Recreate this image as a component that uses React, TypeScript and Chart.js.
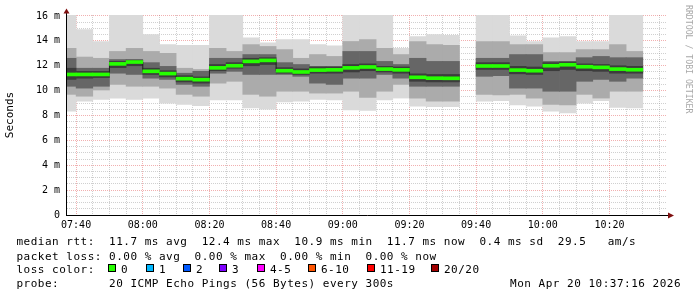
import React, { useEffect, useRef } from 'react';
import { Chart, registerables } from 'chart.js';

Chart.register(...registerables);

// ---- time window and 5-minute step starts ----
const timeStart = '07:37:16';
const timeEnd = '10:37:16';
const slotStart = [
  '07:35', '07:40', '07:45', '07:50', '07:55', '08:00', '08:05', '08:10', '08:15', '08:20',
  '08:25', '08:30', '08:35', '08:40', '08:45', '08:50', '08:55', '09:00', '09:05', '09:10',
  '09:15', '09:20', '09:25', '09:30', '09:35', '09:40', '09:45', '09:50', '09:55', '10:00',
  '10:05', '10:10', '10:15', '10:20', '10:25', '10:30', '10:35',
];

// ---- smoke bands (ms), outermost (1) to innermost (4) ----
const smokeHi1 = [16.3, 14.9, 13.95, 16.3, 16.3, 14.5, 13.7, 13.65, 13.65, 16.3, 16.3, 14.25, 13.85, 14.1, 14.1, 13.7, 13.6, 16.3, 16.3, 16.3, 13.4, 14.35, 14.5, 14.45, null, 16.3, 16.3, 14.4, 13.95, 14.25, 14.35, 13.95, 13.95, 16.3, 16.3, null, null];
const smokeHi2 = [13.4, 12.7, 12.6, 13.15, 13.4, 13.15, 13.0, 11.8, 11.7, 13.4, 13.15, 13.7, 13.55, 13.3, 12.6, 12.9, 12.75, 13.95, 14.1, 13.4, 12.9, 13.95, 13.7, 13.65, null, 13.95, 13.95, 13.7, 13.7, 13.05, 13.05, 13.3, 13.3, 13.7, 13.15, null, null];
const smokeHi3 = [12.6, 11.8, 11.8, 12.5, 12.5, 12.25, 11.95, 11.4, 11.55, 12.6, 12.6, 12.9, 12.9, 12.25, 12.1, 11.95, 11.95, 13.15, 13.15, 12.35, 12.1, 12.6, 12.35, 12.35, null, 12.6, 12.6, 12.9, 12.9, 12.35, 12.35, 12.65, 12.75, 12.65, 12.65, null, null];
const smokeHi4 = [11.8, 11.55, 11.55, 12.35, 12.45, 11.8, 11.6, 11.2, 11.1, 12.1, 12.25, 12.6, 12.65, 11.85, 11.75, 11.9, 11.9, 12.1, 12.15, 11.95, 11.9, 11.35, 11.3, 11.3, null, 12.25, 12.25, 11.95, 11.9, 12.25, 12.3, 12.15, 12.1, 12.0, 11.95, null, null];
const medianRtt = [11.3, 11.3, 11.3, 12.15, 12.3, 11.55, 11.37, 10.96, 10.88, 11.83, 12.0, 12.35, 12.43, 11.6, 11.5, 11.65, 11.67, 11.83, 11.9, 11.73, 11.67, 11.07, 11.0, 10.99, null, 11.98, 11.98, 11.65, 11.6, 12.0, 12.08, 11.92, 11.87, 11.73, 11.68, null, null];
const smokeLo4 = [10.9, 11.0, 11.05, 11.85, 12.0, 11.3, 11.1, 10.7, 10.6, 11.6, 11.8, 12.0, 12.1, 11.4, 11.3, 11.4, 11.4, 11.5, 11.6, 11.5, 11.4, 10.75, 10.7, 10.7, null, 11.7, 11.7, 11.35, 11.3, 11.6, 11.7, 11.6, 11.55, 11.4, 11.4, null, null];
const smokeLo3 = [10.35, 10.2, 10.35, 11.4, 11.3, 11.0, 10.9, 10.5, 10.35, 11.4, 11.55, 11.3, 11.3, 11.3, 11.15, 10.6, 10.5, 11.0, 11.0, 11.3, 11.0, 10.35, 10.35, 10.35, null, 11.15, 11.2, 10.2, 10.2, 9.95, 9.95, 10.75, 10.9, 10.75, 11.0, null, null];
const smokeLo2 = [9.7, 9.55, 10.05, 10.5, 10.35, 10.35, 10.2, 9.7, 9.55, 10.6, 10.75, 9.7, 9.55, 9.95, 9.95, 9.8, 9.8, 9.95, 9.45, 9.95, 10.5, 9.4, 9.15, 9.15, null, 9.7, 9.65, 9.7, 9.4, 8.9, 8.85, 9.7, 9.4, 9.95, 9.95, null, null];
const smokeLo1 = [8.35, 9.15, 9.3, 9.4, 9.3, 9.4, 9.0, 8.9, 8.8, 9.25, 9.25, 8.6, 8.5, 9.1, 9.15, 9.3, 9.25, 8.45, 8.4, 9.25, 9.4, 8.75, 8.7, 8.7, null, 9.15, 9.2, 8.85, 8.75, 8.35, 8.2, 9.0, 9.2, 8.65, 8.6, null, null];

// ---- axis tick labels ----
const xTickLabels = ['07:40', '08:00', '08:20', '08:40', '09:00', '09:20', '09:40', '10:00', '10:20'];
const yTickValues = [0, 2, 4, 6, 8, 10, 12, 14, 16];
const yTickLabels = ['0', '2 m', '4 m', '6 m', '8 m', '10 m', '12 m', '14 m', '16 m'];
const yAxisMax = 16.08;
const yMinorStep = 0.5;

// ---- legend texts ----
const legendMedian = 'median rtt:  11.7 ms avg  12.4 ms max  10.9 ms min  11.7 ms now  0.4 ms sd  29.5   am/s';
const legendLoss = 'packet loss: 0.00 % avg  0.00 % max  0.00 % min  0.00 % now';
const legendLossTitle = 'loss color:';
const lossLabels = ['0', '1', '2', '3', '4-5', '6-10', '11-19', '20/20'];
const lossColors = ['#26ff00', '#00b8ff', '#0059ff', '#7e00ff', '#ff00ff', '#ff5500', '#ff0000', '#a10000'];
const legendProbe = 'probe:       20 ICMP Echo Pings (56 Bytes) every 300s';
const legendDate = 'Mon Apr 20 10:37:16 2026';
const sideText = 'RRDTOOL / TOBI OETIKER';

// ---- styles ----
const MONO = '"DejaVu Sans Mono", monospace';
const smokeColors = ['#dadada', '#ababab', '#666666', '#3c3c3c'];
const majorGrid = 'rgba(224,80,80,0.45)';
const minorGrid = 'rgba(150,150,150,0.45)';
const MEDIAN_HALF = 0.12;
const STEP = 5;
const lossBoxX = [108, 146, 183, 219, 257, 308, 367, 431];

const toMin = (s: string) => {
  const p = s.split(':').map(Number);
  return p[0] * 60 + p[1] + (p[2] || 0) / 60;
};
const tMin = toMin(timeStart);
const tMax = toMin(timeEnd);

const band = (lo: (number | null)[], hi: (number | null)[]) =>
  slotStart.map((s, i) => ({
    x: toMin(s) + STEP / 2,
    y: lo[i] == null || hi[i] == null ? null : [lo[i] as number, hi[i] as number],
  }));

const medianBar = slotStart.map((s, i) => ({
  x: toMin(s) + STEP / 2,
  y: medianRtt[i] == null ? null : [(medianRtt[i] as number) - MEDIAN_HALF, (medianRtt[i] as number) + MEDIAN_HALF],
}));
const medianStep = slotStart.map((s, i) => ({ x: toMin(s), y: medianRtt[i] }));

const xGrid = slotStart.map(toMin).filter((m) => m > tMin && m < tMax);
const xMajor = xTickLabels.map(toMin);
const yGrid: number[] = [];
for (let v = 0; v <= 16 + 1e-9; v += yMinorStep) yGrid.push(Math.round(v * 100) / 100);

const barCommon = {
  type: 'bar' as const,
  grouped: false,
  barPercentage: 1,
  categoryPercentage: 1,
  borderWidth: 0,
};

const decor = {
  id: 'decor',
  afterDraw(chart: any) {
    const { ctx, chartArea } = chart;
    const L = chartArea.left - 1;
    const B = chartArea.bottom;
    ctx.save();
    // axes
    ctx.strokeStyle = '#000';
    ctx.lineWidth = 1;
    ctx.beginPath();
    ctx.moveTo(L + 0.5, B + 1);
    ctx.lineTo(L + 0.5, chartArea.top - 2);
    ctx.moveTo(L, B + 0.5);
    ctx.lineTo(chartArea.right + 2, B + 0.5);
    ctx.stroke();
    // arrows
    ctx.fillStyle = '#7f1010';
    ctx.beginPath();
    ctx.moveTo(L - 2.5, chartArea.top - 1.5);
    ctx.lineTo(L + 3.5, chartArea.top - 1.5);
    ctx.lineTo(L + 0.5, chartArea.top - 6.5);
    ctx.closePath();
    ctx.fill();
    ctx.beginPath();
    ctx.moveTo(chartArea.right + 1, B - 2.5);
    ctx.lineTo(chartArea.right + 1, B + 3.5);
    ctx.lineTo(chartArea.right + 7, B + 0.5);
    ctx.closePath();
    ctx.fill();

    // side text
    ctx.save();
    ctx.translate(688, 5);
    ctx.rotate(Math.PI / 2);
    ctx.font = `8.2px ${MONO}`;
    ctx.fillStyle = '#a8a8a8';
    ctx.textBaseline = 'middle';
    ctx.textAlign = 'left';
    ctx.fillText(sideText, 0, 0);
    ctx.restore();

    // legend
    ctx.font = `11px ${MONO}`;
    (ctx as any).letterSpacing = '0.5px';
    ctx.fillStyle = '#000';
    ctx.textBaseline = 'alphabetic';
    ctx.textAlign = 'left';
    const x0 = 16.5;
    ctx.fillText(legendMedian, x0, 245);
    ctx.fillText(legendLoss, x0, 259.5);
    ctx.fillText(legendLossTitle, x0, 273.3);
    lossLabels.forEach((lab, i) => {
      const bx = lossBoxX[i];
      ctx.fillStyle = lossColors[i];
      ctx.fillRect(bx, 264, 8, 8);
      ctx.strokeStyle = '#000';
      ctx.strokeRect(bx + 0.5, 264.5, 7, 7);
      ctx.fillStyle = '#000';
      ctx.fillText(lab, bx + 13, 273.3);
    });
    ctx.fillText(legendProbe, x0, 287.3);
    ctx.textAlign = 'right';
    ctx.fillText(legendDate, 681, 287.3);
    (ctx as any).letterSpacing = '0px';
    ctx.restore();
  },
};

export default function App() {
  const ref = useRef<HTMLCanvasElement>(null);
  useEffect(() => {
    document.body.style.margin = '0';
    const canvas = ref.current;
    if (!canvas) return;
    const chart = new Chart(canvas, {
      type: 'bar',
      data: {
        datasets: [
          { ...barCommon, data: medianBar as any, backgroundColor: lossColors[0], order: 1 },
          {
            type: 'line',
            data: medianStep as any,
            borderColor: '#202020',
            borderWidth: 1,
            stepped: 'before',
            pointRadius: 0,
            spanGaps: false,
            order: 2,
          } as any,
          { ...barCommon, data: band(smokeLo4, smokeHi4) as any, backgroundColor: smokeColors[3], order: 3 },
          { ...barCommon, data: band(smokeLo3, smokeHi3) as any, backgroundColor: smokeColors[2], order: 4 },
          { ...barCommon, data: band(smokeLo2, smokeHi2) as any, backgroundColor: smokeColors[1], order: 5 },
          { ...barCommon, data: band(smokeLo1, smokeHi1) as any, backgroundColor: smokeColors[0], order: 6 },
        ] as any,
      },
      options: {
        responsive: false,
        animation: false,
        events: [],
        layout: { padding: { left: 0, right: 30, top: 15, bottom: 0 } },
        plugins: { legend: { display: false }, tooltip: { enabled: false } },
        scales: {
          x: {
            type: 'linear',
            min: tMin,
            max: tMax,
            offset: false,
            z: 1,
            grid: {
              offset: false,
              drawTicks: false,
              lineWidth: 1,
              color: (c: any) => (xMajor.includes(c.tick?.value) ? majorGrid : minorGrid),
            },
            border: { display: false, dash: [1, 1] },
            afterBuildTicks: (s: any) => {
              s.ticks = xGrid.map((v) => ({ value: v }));
            },
            afterFit: (s: any) => {
              s.height = 82;
            },
            ticks: {
              autoSkip: false,
              maxRotation: 0,
              minRotation: 0,
              padding: 4,
              color: '#000',
              font: { family: MONO, size: 10 },
              callback: (v: any) => {
                const i = xMajor.indexOf(Number(v));
                return i >= 0 ? xTickLabels[i] : '';
              },
            },
          },
          y: {
            type: 'linear',
            min: 0,
            max: yAxisMax,
            z: 1,
            grid: {
              drawTicks: false,
              lineWidth: 1,
              color: (c: any) => (yTickValues.includes(c.tick?.value) ? majorGrid : minorGrid),
            },
            border: { display: false, dash: [1, 1] },
            afterBuildTicks: (s: any) => {
              s.ticks = yGrid.map((v) => ({ value: v }));
            },
            afterFit: (s: any) => {
              s.width = 67;
            },
            title: {
              display: true,
              text: 'Seconds',
              color: '#000',
              font: { family: MONO, size: 11 },
              padding: { top: 4, bottom: 0 },
            },
            ticks: {
              autoSkip: false,
              padding: 7,
              color: '#000',
              font: { family: MONO, size: 10 },
              callback: (v: any) => {
                const i = yTickValues.indexOf(Number(v));
                return i >= 0 ? yTickLabels[i] : '';
              },
            },
          },
        },
      } as any,
      plugins: [decor],
    });
    return () => chart.destroy();
  }, []);
  return <canvas ref={ref} width={697} height={297} style={{ display: 'block', width: 697, height: 297 }} />;
}
